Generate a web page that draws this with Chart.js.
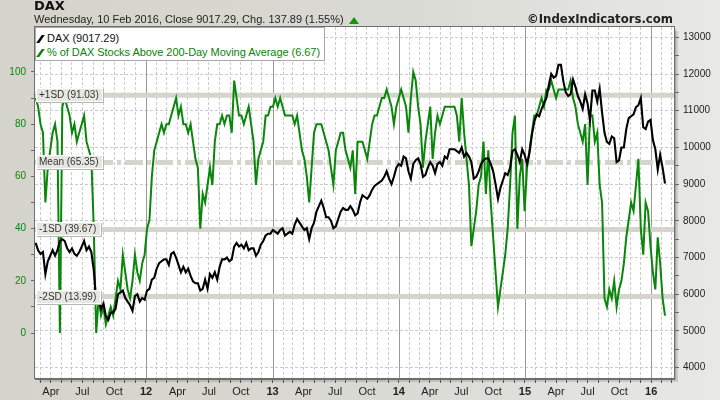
<!DOCTYPE html>
<html>
<head>
<meta charset="utf-8">
<script src="https://cdn.jsdelivr.net/npm/chart.js@4.4.1/dist/chart.umd.min.js"></script>
<style>
html, body { margin:0; padding:0; }
body { width:720px; height:400px; overflow:hidden; position:relative;
  background: linear-gradient(to right, #d4d4cc 0%, #dadad4 55%, #e8e8e5 100%);
  font-family: "Liberation Sans", Arial, sans-serif; }
canvas { position:absolute; left:0; top:0; }
#title { position:absolute; left:34px; top:-2px; line-height:15px; font: bold 13px "DejaVu Sans", sans-serif; color:#111; }
#sub { position:absolute; left:34px; top:13px; line-height:13px; font-size:11px; color:#222; white-space:nowrap; }
#sub .up { display:inline-block; width:0; height:0; margin-left:5px; vertical-align:-1px;
  border-left:5px solid transparent; border-right:5px solid transparent; border-bottom:7px solid #0a9a0a; }
#copy { position:absolute; right:47px; top:12px; line-height:14px; font: bold 11.7px "DejaVu Sans", sans-serif; color:#222; }
#legend { position:absolute; left:35px; top:27px; width:288px; height:32px; background:#fff; border:1px solid #a8a8a8; font-size:11px; }
#legend .row { position:absolute; left:11px; white-space:nowrap; line-height:13px; letter-spacing:-0.05px; }
#legend .mk { position:absolute; left:-8px; top:3px; width:3px; height:8px; transform:skewX(-35deg); }
</style>
</head>
<body>
<canvas id="c" width="720" height="400"></canvas>
<div id="title">DAX</div>
<div id="sub">Wednesday, 10 Feb 2016, Close 9017.29, Chg. 137.89 (1.55%)<span class="up"></span></div>
<div id="copy">©IndexIndicators.com</div>
<div id="legend">
  <div class="row" style="top:4px;color:#111"><span class="mk" style="background:#000"></span>DAX (9017.29)</div>
  <div class="row" style="top:18px;color:#0a820a"><span class="mk" style="background:#0a820a"></span>% of DAX Stocks Above 200-Day Moving Average (6.67)</div>
</div>
<script>
// weekly closes, every Wednesday from 16 Feb 2011 to 10 Feb 2016
const weekStart = [2011, 1, 16];

const daxWeekly = [
  // 2011
  7400,7200,7100,7150,6550,6900,7050,7200,7050,7200,
  7450,7500,7450,7250,7150,7250,7100,7050,7150,7300,
  7450,7200,7300,7150,6650,5800,5900,5600,5750,5400,
  5300,5500,5500,5600,6000,6050,6100,5900,5800,5700,
  5550,5950,6000,5800,5900,5850,
  // 2012
  6100,6150,6400,6450,6700,6850,6900,6950,6950,6800,
  7100,7150,7000,6800,6600,6750,6600,6700,6500,6350,
  6300,6300,6100,6150,6400,6150,6550,6450,6600,6400,
  6750,6950,6950,7000,6900,6950,7300,7400,7300,7350,
  7250,7400,7200,7250,7250,7050,7150,7350,7450,7600,
  7650,7650,
  // 2013
  7750,7700,7650,7750,7800,7600,7650,7700,7650,7900,
  8050,7950,7850,7750,7800,7500,7800,7950,8250,8400,
  8550,8350,8100,8100,8000,7800,7850,8050,8250,8350,
  8300,8300,8400,8300,8150,8200,8500,8700,8650,8600,
  8700,8850,8950,9000,9050,9100,9200,9350,9150,9000,
  9200,9450,
  // 2014
  9550,9500,9750,9700,9350,9150,9550,9650,9700,9550,
  9200,9250,9450,9600,9500,9300,9550,9600,9500,9750,
  9700,9950,9950,9950,9900,9850,10000,9750,9850,9750,
  9600,9150,9200,9350,9550,9650,9700,9700,9550,9350,
  9000,8600,8900,9100,9300,9250,9450,9900,9950,9800,
  9600,9950,9800,
  // 2015
  9550,9850,10350,10700,10900,10850,11050,11200,11350,11700,
  12000,11900,11950,12250,12250,11800,11500,11400,11450,11850,
  11650,11400,11250,11050,11450,11200,10750,11550,11550,11250,
  11600,10950,10400,10150,10100,10300,10250,9600,9650,10000,
  10000,10500,10800,10850,10900,11100,11150,11350,10550,10500,
  10700,10750,
  // 2016
  10200,9950,9400,9800,9450,9017.29
];

const pctWeekly = [
  // 2011
  90,86.7,80,76.7,50,63.3,70,76.7,80,73.3,
  0,86.7,90,86.7,83.3,76.7,80,73.3,76.7,80,
  83.3,73.3,70,66.7,40,0,13.3,6.7,10,3.3,
  6.7,10,6.7,13.3,20,16.7,30,23.3,16.7,13.3,
  20,30,23.3,20,26.7,30,
  // 2012
  40,43.3,60,70,73.3,76.7,80,76.7,80,80,
  83.3,86.7,90,83.3,86.7,80,80,76.7,80,73.3,
  66.7,63.3,40,53.3,50,56.7,63.3,56.7,73.3,80,
  80,83.3,80,83.3,83.3,76.7,96.7,90,83.3,83.3,
  80,83.3,86.7,80,73.3,56.7,66.7,70,73.3,83.3,
  83.3,86.7,
  // 2013
  86.7,90,86.7,90,86.7,83.3,83.3,83.3,83.3,80,
  83.3,76.7,70,66.7,60,50,63.3,76.7,80,80,
  80,76.7,73.3,70,63.3,56.7,70,73.3,76.7,76.7,
  70,66.7,63.3,70,53.3,73.3,73.3,73.3,70,66.7,
  73.3,80,83.3,83.3,86.7,90,90,93.3,90,86.7,
  80,86.7,
  // 2014
  90,93.3,90,86.7,76.7,90,100,96.7,86.7,80,
  63.3,73.3,80,86.7,66.7,76.7,83.3,80,83.3,86.7,
  86.7,86.7,86.7,86.7,83.3,73.3,90,76.7,66.7,56.7,
  33.3,40,46.7,56.7,60,73.3,53.3,70,50,36.7,
  23.3,10,16.7,23.3,30,40,56.7,76.7,83.3,40,
  60,66.7,46.7,
  // 2015
  63.3,70,76.7,83.3,83.3,86.7,90,86.7,93.3,93.3,
  96.7,93.3,90,93.3,93.3,93.3,93.3,93.3,96.7,90,
  86.7,80,76.7,73.3,80,56.7,83.3,83.3,73.3,76.7,
  56.7,50,13.3,10,16.7,13.3,20,10,16.7,20,
  26.7,36.7,43.3,50,46.7,56.7,66.7,40,30,50,
  46.7,33.3,
  // 2016
  23.3,16.7,36.7,26.7,13.3,6.67
];

const pctTicks = [0, 20, 40, 60, 80, 100];
const daxTicks = [4000, 5000, 6000, 7000, 8000, 9000, 10000, 11000, 12000, 13000];
const monthLabels = ['', '', '', 'Apr', '', '', 'Jul', '', '', 'Oct', '', ''];

const bandValues = [91.03, 65.35, 39.67, 13.99];
const bandNames = ['+1SD', 'Mean', '-1SD', '-2SD'];

const DAY = 86400000;
const dayOf = (y, m, d) => Date.UTC(y, m, d) / DAY;
const xMin = dayOf(2011, 1, 14);
const xMax = dayOf(2016, 2, 7);
const firstDay = dayOf(weekStart[0], weekStart[1], weekStart[2]);

const monthTicks = [];
const yearStarts = [];
for (let y = 2011; y <= 2016; y++) {
  for (let m = 0; m < 12; m++) {
    const d = dayOf(y, m, 1);
    if (d >= xMin && d <= xMax) {
      monthTicks.push(d);
      if (m === 0) yearStarts.push(d);
    }
  }
}
const monthOf = v => new Date(v * DAY).getUTCMonth();

const pctAll = [];
pctTicks.forEach(v => { pctAll.push(v); if (v < 100) pctAll.push(v + 10); });
const daxAll = [];
daxTicks.forEach(v => { daxAll.push(v); if (v < 13000) daxAll.push(v + 500); });

const chartDecor = {
  id: 'chartDecor',
  beforeDraw(chart) {
    const {ctx, chartArea: a} = chart;
    ctx.save();
    ctx.fillStyle = 'rgba(0,0,0,0.12)';
    ctx.fillRect(a.left + 4, a.top + 4, a.right - a.left, a.bottom - a.top);
    ctx.fillStyle = 'rgba(0,0,0,0.18)';
    ctx.fillRect(a.left + 2, a.top + 2, a.right - a.left, a.bottom - a.top);
    ctx.fillStyle = '#fff';
    ctx.fillRect(a.left, a.top, a.right - a.left, a.bottom - a.top);
    ctx.restore();
  },
  beforeDatasetsDraw(chart) {
    const {ctx, chartArea: a, scales} = chart;
    ctx.save();
    // year separators
    ctx.strokeStyle = '#9a9a9a';
    ctx.lineWidth = 1;
    yearStarts.forEach(d => {
      const x = Math.round(scales.x.getPixelForValue(d)) + 0.5;
      ctx.beginPath(); ctx.moveTo(x, a.top); ctx.lineTo(x, a.bottom); ctx.stroke();
    });
    // std-dev bands
    ctx.strokeStyle = '#d5d5cd';
    ctx.lineWidth = 5;
    bandValues.forEach((v, i) => {
      const y = scales.yPct.getPixelForValue(v);
      ctx.setLineDash(bandNames[i] === 'Mean' ? [18, 4, 4, 4] : []);
      ctx.beginPath(); ctx.moveTo(a.left, y); ctx.lineTo(a.right, y); ctx.stroke();
    });
    ctx.restore();
  },
  afterDatasetsDraw(chart) {
    const {ctx, chartArea: a, scales} = chart;
    ctx.save();
    ctx.font = '10px "Liberation Sans", Arial, sans-serif';
    ctx.textBaseline = 'middle';
    bandValues.forEach((v, i) => {
      const y = Math.round(scales.yPct.getPixelForValue(v));
      const txt = bandNames[i] + ' (' + v.toFixed(2) + ')';
      const w = Math.ceil(ctx.measureText(txt).width) + 7;
      ctx.fillStyle = '#b8b8b2';
      ctx.fillRect(a.left + 2, y - 6, w, 14);
      ctx.fillStyle = '#e7e7e1';
      ctx.fillRect(a.left + 1, y - 7, w, 14);
      ctx.strokeStyle = '#ffffff';
      ctx.lineWidth = 1;
      ctx.strokeRect(a.left + 1.5, y - 6.5, w - 1, 13);
      ctx.fillStyle = '#333';
      ctx.fillText(txt, a.left + 4, y + 0.5);
    });
    // plot frame
    ctx.strokeStyle = '#6e6e6e';
    ctx.lineWidth = 1;
    ctx.strokeRect(a.left - 0.5, a.top - 0.5, a.right - a.left + 1, a.bottom - a.top + 1);
    ctx.beginPath(); ctx.moveTo(a.left, a.bottom + 1.5); ctx.lineTo(a.right + 1, a.bottom + 1.5); ctx.stroke();
    ctx.restore();
  }
};

new Chart(document.getElementById('c'), {
  type: 'line',
  data: {
    datasets: [
      {
        label: 'DAX',
        data: daxWeekly.map((v, i) => ({x: firstDay + 7 * i, y: v})),
        yAxisID: 'yDax',
        borderColor: '#000',
        borderWidth: 2.1,
        pointRadius: 0,
        tension: 0
      },
      {
        label: '% of DAX Stocks Above 200-Day Moving Average',
        data: pctWeekly.map((v, i) => ({x: firstDay + 7 * i, y: v})),
        yAxisID: 'yPct',
        borderColor: '#0a860a',
        borderWidth: 2,
        pointRadius: 0,
        tension: 0
      }
    ]
  },
  options: {
    responsive: false,
    animation: false,
    devicePixelRatio: 1,
    layout: { padding: { top: 27, left: 0, right: 0, bottom: 0 } },
    plugins: { legend: { display: false }, tooltip: { enabled: false } },
    scales: {
      x: {
        type: 'linear',
        min: xMin,
        max: xMax,
        afterBuildTicks: s => { s.ticks = monthTicks.map(v => ({value: v})); },
        afterFit: s => { s.height = 22; },
        border: { display: false, dash: [3, 2] },
        grid: {
          color: c => (c.tick && monthOf(c.tick.value) === 0) ? 'rgba(0,0,0,0)' : '#cbcbcb',
          tickColor: '#555',
          tickLength: 5,
          tickBorderDash: [6, 0]
        },
        ticks: {
          autoSkip: false,
          maxRotation: 0,
          minRotation: 0,
          padding: 2,
          color: '#222',
          font: c => ({
            family: '"Liberation Sans", Arial, sans-serif',
            size: 11,
            weight: (c.tick && monthOf(c.tick.value) === 0) ? 'bold' : 'normal'
          }),
          callback: v => {
            const m = monthOf(v);
            return m === 0 ? String(new Date(v * DAY).getUTCFullYear()).slice(2) : monthLabels[m];
          }
        }
      },
      yPct: {
        type: 'linear',
        position: 'left',
        min: -17.2,
        max: 117.2,
        afterBuildTicks: s => { s.ticks = pctAll.map(v => ({value: v})); },
        afterFit: s => { s.width = 35; },
        border: { display: false },
        grid: { drawOnChartArea: false, tickColor: '#666', tickLength: 4 },
        ticks: {
          autoSkip: false,
          padding: 5,
          color: '#0a860a',
          font: { family: '"Liberation Sans", Arial, sans-serif', size: 10 },
          callback: v => pctTicks.includes(v) ? String(v) : ''
        }
      },
      yDax: {
        type: 'linear',
        position: 'right',
        min: 3719,
        max: 13281,
        afterBuildTicks: s => { s.ticks = daxAll.map(v => ({value: v})); },
        afterFit: s => { s.width = 46; },
        border: { display: false, dash: [3, 2] },
        grid: {
          color: c => (c.tick && c.tick.value % 1000 === 0) ? '#cbcbcb' : 'rgba(0,0,0,0)',
          tickColor: '#666',
          tickLength: 5,
          tickBorderDash: [6, 0]
        },
        ticks: {
          autoSkip: false,
          padding: 4,
          color: '#222',
          font: { family: '"Liberation Sans", Arial, sans-serif', size: 10 },
          callback: v => daxTicks.includes(v) ? String(v) : ''
        }
      }
    }
  },
  plugins: [chartDecor]
});
</script>
</body>
</html>
